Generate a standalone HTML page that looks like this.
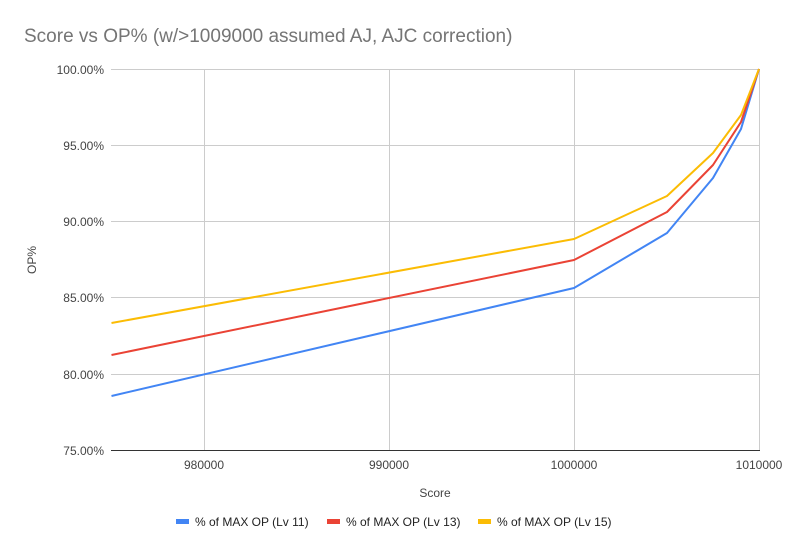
<!DOCTYPE html>
<html><head><meta charset="utf-8"><style>
body{margin:0;background:#fff;}
svg{display:block;font-family:"Liberation Sans",Arial,sans-serif;}
</style></head><body>
<svg width="787" height="546" viewBox="0 0 787 546" xmlns="http://www.w3.org/2000/svg">
<rect width="787" height="546" fill="#fff"/>
<text x="24" y="42" font-size="19" fill="#757575">Score vs OP% (w/&gt;1009000 assumed AJ, AJC correction)</text>
<g stroke="#cccccc" stroke-width="1">
<line x1="111" y1="69.5" x2="760" y2="69.5"/>
<line x1="111" y1="145.5" x2="760" y2="145.5"/>
<line x1="111" y1="221.5" x2="760" y2="221.5"/>
<line x1="111" y1="297.5" x2="760" y2="297.5"/>
<line x1="111" y1="374.5" x2="760" y2="374.5"/>
<line x1="204.5" y1="69" x2="204.5" y2="450"/>
<line x1="389.5" y1="69" x2="389.5" y2="450"/>
<line x1="574.5" y1="69" x2="574.5" y2="450"/>
<line x1="759.5" y1="69" x2="759.5" y2="450"/>
</g>
<line x1="111" y1="450.5" x2="760" y2="450.5" stroke="#333" stroke-width="1"/>
<g font-size="12" fill="#444" text-anchor="end">
<text x="104" y="74">100.00%</text>
<text x="104" y="150">95.00%</text>
<text x="104" y="226">90.00%</text>
<text x="104" y="302">85.00%</text>
<text x="104" y="379">80.00%</text>
<text x="104" y="455">75.00%</text>
</g>
<g font-size="12" fill="#444" text-anchor="middle">
<text x="204" y="469">980000</text>
<text x="389" y="469">990000</text>
<text x="574" y="469">1000000</text>
<text x="759" y="469">1010000</text>
<text x="435" y="497">Score</text>
</g>
<text transform="translate(36,260) rotate(-90)" font-size="12" fill="#444" text-anchor="middle">OP%</text>
<g fill="none" stroke-width="2" stroke-linejoin="round">
<polyline stroke="#4285f4" points="111.5,396 574,288 667,233 713,178 741,129 759,69"/>
<polyline stroke="#ea4335" points="111.5,355 574,260 667,212 713,165 741,122 759,69"/>
<polyline stroke="#fbbc04" points="111.5,323 574,239 667,196 713,153 741,115 759,69"/>
</g>
<g font-size="12" fill="#222">
<rect x="176" y="519" width="13" height="5" fill="#4285f4"/>
<text x="195" y="526">% of MAX OP (Lv 11)</text>
<rect x="327" y="519" width="13" height="5" fill="#ea4335"/>
<text x="346" y="526">% of MAX OP (Lv 13)</text>
<rect x="478" y="519" width="13" height="5" fill="#fbbc04"/>
<text x="497" y="526">% of MAX OP (Lv 15)</text>
</g>
</svg>
</body></html>
